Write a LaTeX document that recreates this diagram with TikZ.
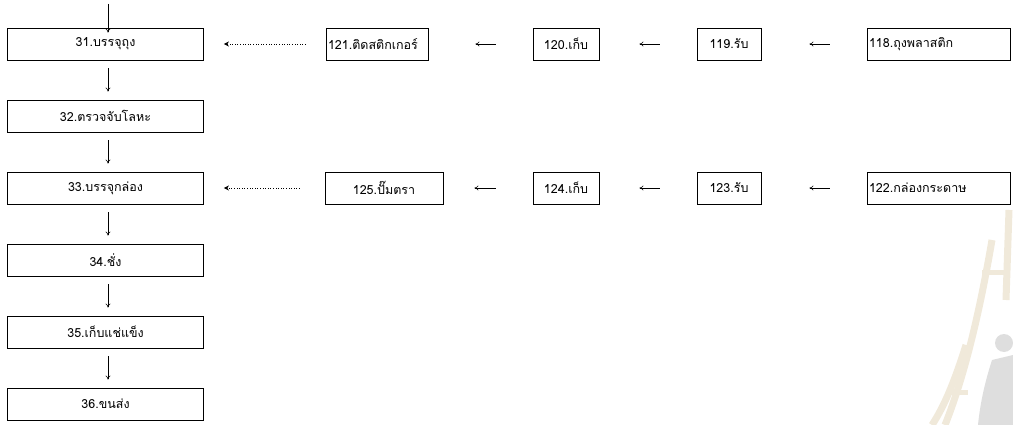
\documentclass[tikz,border=0pt]{standalone}
\usepackage{fontspec}
\newfontfamily\thai[Script=Thai]{Loma}
\usetikzlibrary{arrows.meta}
\definecolor{beige}{RGB}{240,233,218}
\definecolor{wgrey}{RGB}{222,222,222}
\tikzset{
  box/.style={draw, line width=0.9pt, minimum height=32pt, inner sep=2pt, font=\thai\fontsize{12.5}{14}\selectfont},
  lbox/.style={box, minimum width=196pt},
  varrow/.style={line width=0.6pt, -{To[length=4pt,width=5pt]}},
  harrow/.style={line width=0.6pt, -{To[length=4pt,width=5pt]}},
  darrow/.style={line width=0.6pt, dotted, -{Stealth[length=5pt,width=5pt]}},
  wm/.style={line width=7pt, color=beige},
}
\begin{document}
\begin{tikzpicture}[x=1pt,y=-1pt]
\useasboundingbox (0,0) rectangle (1013,425);
% watermark
\draw[wm] (1009,210) -- (1006,300);
\draw[wm] (992,240) .. controls (980,310) and (965,375) .. (945,425);
\draw[wm] (966,345) .. controls (955,380) and (945,405) .. (932,425);
\draw[line width=5pt, color=beige] (982,272) -- (1006,272);
\draw[line width=5pt, color=beige] (948,392) -- (968,392);
\fill[wgrey] (1004,343) circle (9);
\fill[wgrey] (992,360) .. controls (984,385) and (980,405) .. (978,425) -- (1013,425) -- (1013,355) -- cycle;
% left column
\node[lbox] (b31) at (105.5,44) {31.บรรจุถุง};
\node[lbox] (b32) at (105.5,116) {32.ตรวจจับโลหะ};
\node[lbox] (b33) at (105.5,188) {33.บรรจุกล่อง};
\node[lbox] (b34) at (105.5,260) {34.ชั่ง};
\node[lbox] (b35) at (105.5,332) {35.เก็บแช่แข็ง};
\node[lbox] (b36) at (105.5,404) {36.ขนส่ง};
\coordinate (top) at (108,4);
\draw[varrow] (top) -- ([xshift=2.5pt,yshift=-5pt]b31.north);
\foreach \a/\b in {b31/b32,b32/b33,b33/b34,b34/b35,b35/b36}
  \draw[varrow] ([xshift=2.5pt,yshift=-8pt]\a.south) -- ([xshift=2.5pt,yshift=8pt]\b.north);
% row 1
\node[box, minimum width=102pt, text width=98pt, align=left] (b121) at (377,44) {121.ติดสติกเกอร์};
\node[box, minimum width=66pt] (b120) at (566,44) {120.เก็บ};
\node[box, minimum width=64pt] (b119) at (729,44) {119.รับ};
\node[box, minimum width=143pt, text width=139pt, align=left] (b118) at (938.5,44) {118.ถุงพลาสติก};
\draw[darrow] ([xshift=-20pt]b121.west) -- ([xshift=20pt]b31.east);
\draw[harrow] ([xshift=-37pt]b120.west) -- ([xshift=47pt]b121.east);
\draw[harrow] ([xshift=-37pt]b119.west) -- ([xshift=40pt]b120.east);
\draw[harrow] ([xshift=-37pt]b118.west) -- ([xshift=48pt]b119.east);
% row 2
\node[box, minimum width=118pt] (b125) at (384,188) {125.ปั๊มตรา};
\node[box, minimum width=66pt] (b124) at (566,188) {124.เก็บ};
\node[box, minimum width=64pt] (b123) at (729,188) {123.รับ};
\node[box, minimum width=143pt, text width=139pt, align=left] (b122) at (938.5,188) {122.กล่องกระดาษ};
\draw[darrow] ([xshift=-25pt]b125.west) -- ([xshift=20pt]b33.east);
\draw[harrow] ([xshift=-37pt]b124.west) -- ([xshift=31pt]b125.east);
\draw[harrow] ([xshift=-37pt]b123.west) -- ([xshift=40pt]b124.east);
\draw[harrow] ([xshift=-37pt]b122.west) -- ([xshift=48pt]b123.east);
\end{tikzpicture}
\end{document}
